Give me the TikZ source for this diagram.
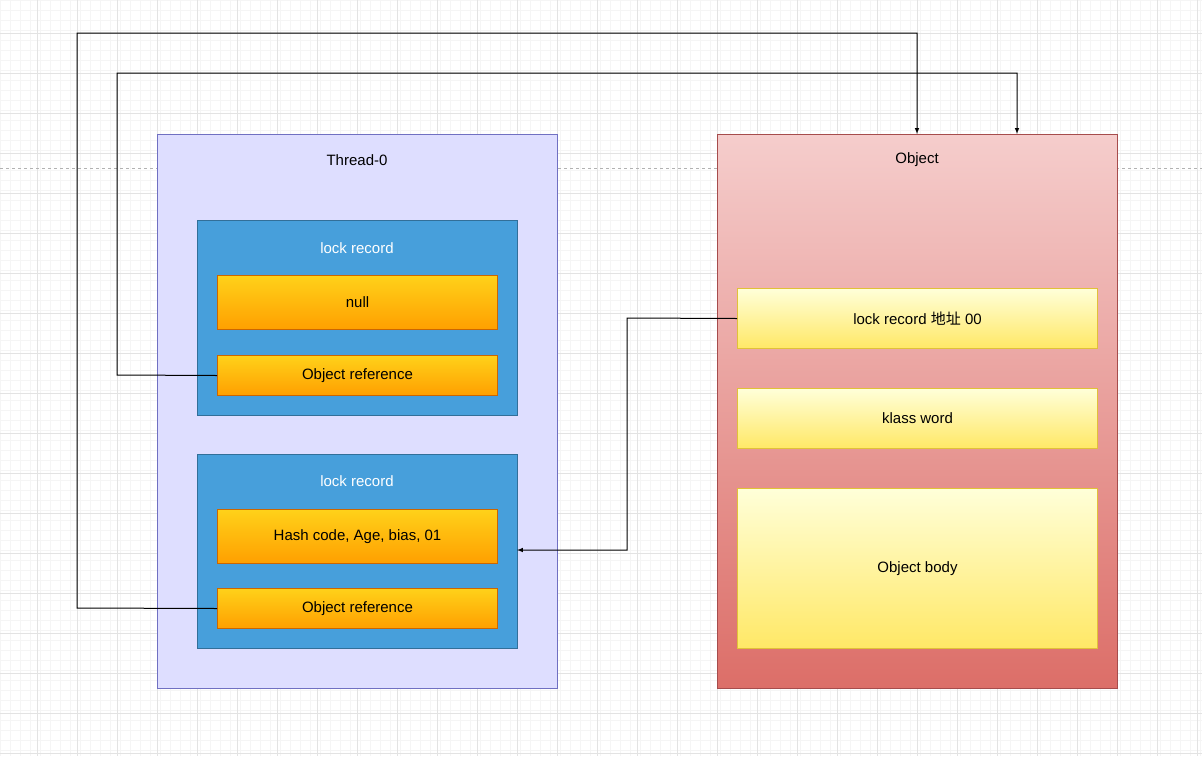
\documentclass[tikz,border=0pt]{standalone}
\usepackage{fontspec}
\setmainfont{Liberation Sans}
\newfontfamily\cjk{Noto Sans CJK SC}
\begin{document}
\begin{tikzpicture}[x=1pt,y=-1pt,
  txt/.style={font=\fontsize{15}{18}\selectfont},
  outer/.style={draw, line width=1pt, minimum width=400pt, minimum height=554pt, anchor=north west},
  rec/.style={draw=#1!70!black, fill=#1, line width=1pt, minimum width=320pt, anchor=north west},
  orng/.style={draw=orange!80!black, top color=yellow!60!orange!90, bottom color=orange!75!yellow, line width=1pt, minimum width=280pt, anchor=north west, txt},
  yel/.style={draw=yellow!50!brown, top color=yellow!15, bottom color=yellow!70!orange!60, line width=1pt, minimum width=360pt, anchor=north west, txt},
  conn/.style={line width=1pt, -latex, rounded corners=0pt}]
\useasboundingbox (0,0) rectangle (1202,756);
\fill[white] (0,0) rectangle (1202,756);
\draw[gray!8, step=10pt] (0,0) grid (1202,756);
\draw[gray!22, step=40pt, shift={(-3,-7)}] (3,7) grid (1205,763);
\draw[gray!60, dashed] (0,168) -- (1202,168);
% Thread-0
\node[outer, draw=blue!40!gray!80, fill=blue!13!white] (th) at (157,134) {};
\node[txt] (thl) at (357,160) {Thread-0};
\definecolor{lrb}{HTML}{479FDB}
\node[rec=lrb, minimum height=195pt] (lr1) at (197,220) {};
\node[txt, text=white] (lr1l) at (357,248) {lock record};
\node[orng, minimum height=54pt] (n1) at (217,275) {null};
\node[orng, minimum height=40pt] (or1) at (217,355) {Object reference};
\node[rec=lrb, minimum height=194pt] (lr2) at (197,454) {};
\node[txt, text=white] (lr2l) at (357,481) {lock record};
\node[orng, minimum height=54pt] (hc) at (217,509) {Hash code, Age, bias, 01};
\node[orng, minimum height=40pt] (or2) at (217,588) {Object reference};
% Object
\definecolor{ot}{HTML}{F5CDCC}\definecolor{ob}{HTML}{DC6E68}
\node[outer, draw=red!50!black!70, top color=ot, bottom color=ob] (obj) at (717,134) {};
\node[txt] (objl) at (917,160) {Object};
\node[yel, minimum height=60pt] (la) at (737,288) {lock record {\cjk 地址} 00};
\node[yel, minimum height=60pt] (kw) at (737,388) {klass word};
\node[yel, minimum height=160pt] (ob) at (737,488) {Object body};
% connectors
\coordinate (t1) at (1017,134);
\coordinate (t2) at (917,134);
\coordinate (t3) at (517,550);
\draw[conn] (or1.west) -- (117,375) -- (117,73) -- (1017,73) -- (t1);
\draw[conn] (or2.west) -- (77,608) -- (77,33) -- (917,33) -- (t2);
\draw[conn] (la.west) -- (627,318) -- (627,550) -- (t3);
\end{tikzpicture}
\end{document}
